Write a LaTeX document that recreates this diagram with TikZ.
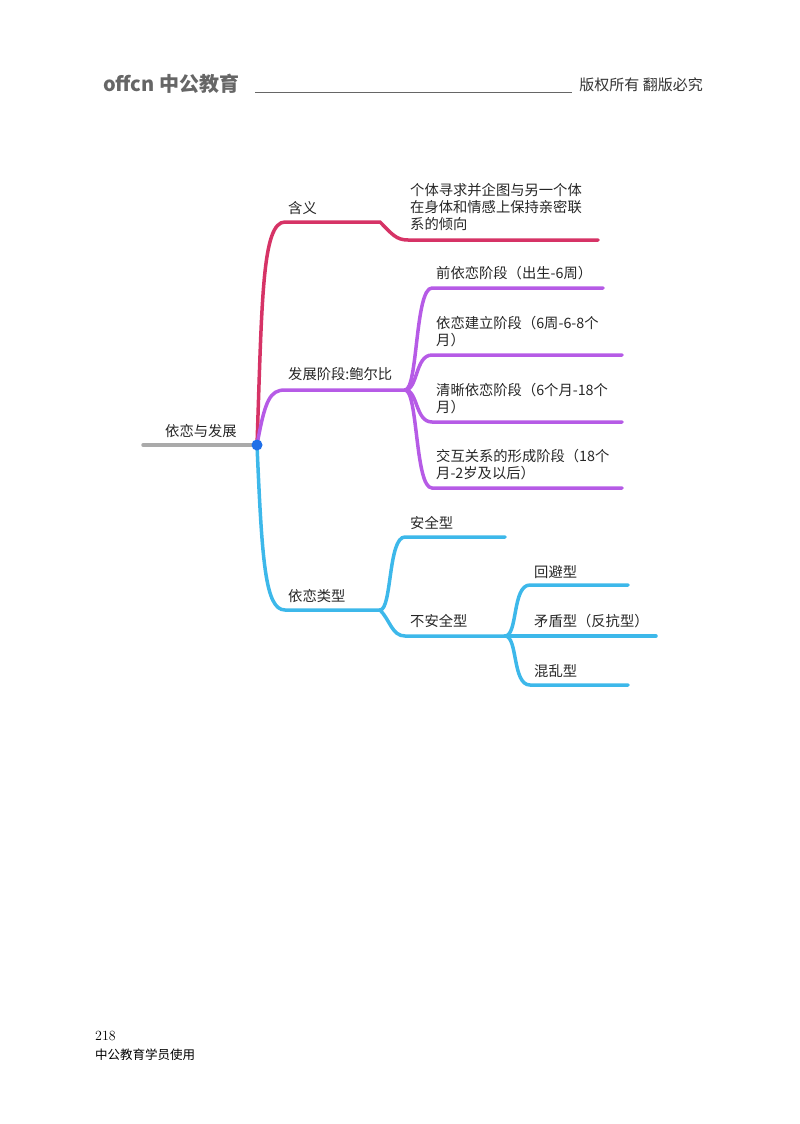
\documentclass[tikz,border=0pt]{standalone}
\usepackage{fontspec}
\newfontfamily\cjk{Noto Sans CJK SC}
\definecolor{cred}{HTML}{D63366}
\definecolor{cpur}{HTML}{B65BE6}
\definecolor{cblu}{HTML}{3DB8EA}
\definecolor{cdot}{HTML}{1F6FE8}
\definecolor{cgry}{HTML}{AAAAAA}
\begin{document}
\begin{tikzpicture}[x=1pt,y=-1pt,
  lab/.style={anchor=west,font=\cjk\fontsize{14.3}{17}\selectfont,inner sep=0pt,align=left,text=black!85},
  br/.style={line width=3.5pt,line cap=round}]
\useasboundingbox (0,0) rectangle (800,1124);
% header
\node[anchor=west,font=\cjk\bfseries\fontsize{20}{20}\selectfont,text=black!60,inner sep=0pt] (logo) at (103,84) {offcn 中公教育};
\coordinate (hl1) at (255,92); \coordinate (hl2) at (572,92);
\draw[black!60,line width=1pt] (hl1) -- (hl2);
\node[anchor=east,font=\cjk\fontsize{15}{16}\selectfont,text=black!80,inner sep=0pt] (cr) at (703,85) {版权所有\ 翻版必究};
% footer
\node[anchor=west,font=\fontsize{14}{16}\selectfont,inner sep=0pt] (pg) at (95,1036) {218};
\node[anchor=west,font=\cjk\fontsize{12.5}{16}\selectfont,inner sep=0pt] (ft) at (95,1055) {中公教育学员使用};
% coordinates
\coordinate (r0) at (143,445); \coordinate (c) at (257,445);
\coordinate (a1) at (285,222); \coordinate (a2) at (380,222); \coordinate (a3) at (408,240); \coordinate (a4) at (598,240);
\coordinate (b1) at (285,390); \coordinate (b2) at (405,390);
\coordinate (d1) at (285,610); \coordinate (d2) at (380,610);
\coordinate (s1) at (405,537); \coordinate (s1e) at (505,537);
\coordinate (s2) at (405,636); \coordinate (s2e) at (505,636);
\coordinate (u1) at (530,585); \coordinate (u1e) at (628,585);
\coordinate (u2) at (530,636); \coordinate (u2e) at (656,636);
\coordinate (u3) at (530,685); \coordinate (u3e) at (628,685);
% lines
\draw[cgry,br] (r0) -- (c);
\draw[cred,br] (c) .. controls (262,300) and (262,222) .. (a1) -- (a2) .. controls (392,234) and (396,240) .. (a3) -- (a4);
\draw[cpur,br] (c) .. controls (265,400) and (270,390) .. (b1) -- (b2);
\foreach \i/\y/\e in {1/288/603,2/355/622,3/422/622,4/488/622}{
  \coordinate (p\i) at (432,\y); \coordinate (p\i e) at (\e,\y);
  \draw[cpur,br] (b2) .. controls (418,390) and (415,\y) .. (p\i) -- (p\i e);}
\draw[cblu,br] (c) .. controls (262,560) and (265,610) .. (d1) -- (d2);
\draw[cblu,br] (d2) .. controls (392,610) and (388,537) .. (s1) -- (s1e);
\draw[cblu,br] (d2) .. controls (390,620) and (392,636) .. (s2) -- (s2e);
\draw[cblu,br] (s2e) .. controls (518,636) and (512,585) .. (u1) -- (u1e);
\draw[cblu,br] (s2e) -- (u2e);
\draw[cblu,br] (s2e) .. controls (518,636) and (512,685) .. (u3) -- (u3e);
\fill[cdot] (c) circle (5.5);
% labels
\node[lab] (t0) at (165,431) {依恋与发展};
\node[lab] (t1) at (288,208) {含义};
\node[lab] (t1b) at (410,207) {个体寻求并企图与另一个体\\在身体和情感上保持亲密联\\系的倾向};
\node[lab] (t2) at (288,374) {发展阶段:鲍尔比};
\node[lab] (q1) at (436,273) {前依恋阶段（出生-6周）};
\node[lab] (q2) at (436,332) {依恋建立阶段（6周-6-8个\\月）};
\node[lab] (q3) at (436,399) {清晰依恋阶段（6个月-18个\\月）};
\node[lab] (q4) at (436,465) {交互关系的形成阶段（18个\\月-2岁及以后）};
\node[lab] (t3) at (288,596) {依恋类型};
\node[lab] (v1) at (410,523) {安全型};
\node[lab] (v2) at (410,621) {不安全型};
\node[lab] (w1) at (534,572) {回避型};
\node[lab] (w2) at (534,621) {矛盾型（反抗型）};
\node[lab] (w3) at (534,671) {混乱型};
\end{tikzpicture}
\end{document}
